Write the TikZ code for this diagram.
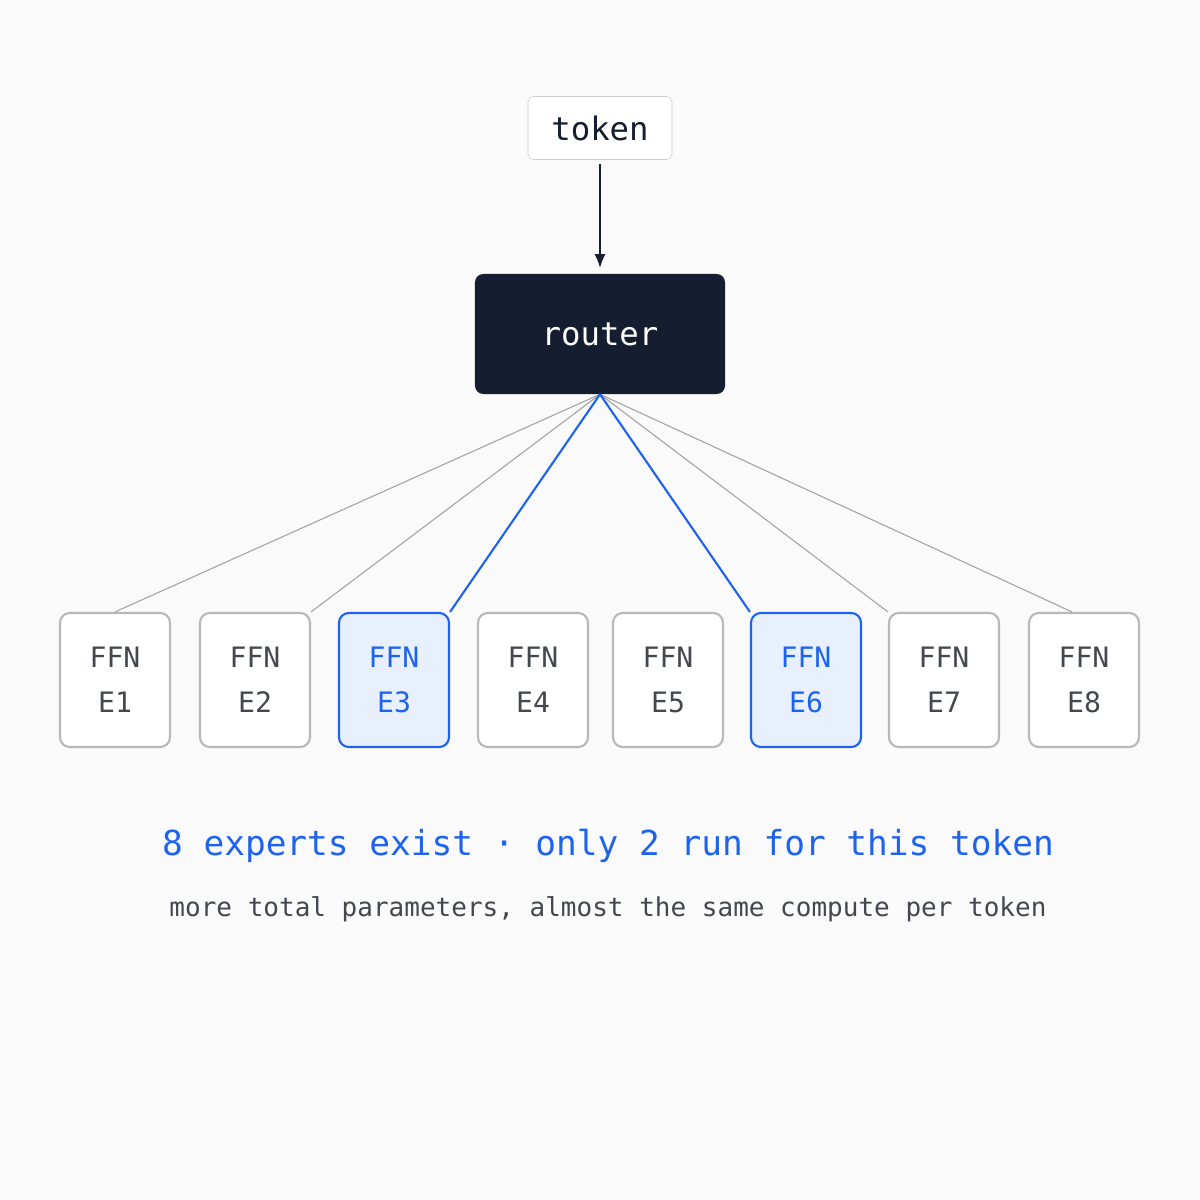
\documentclass[tikz,border=0pt]{standalone}
\usepackage{fontspec}
\setmonofont{DejaVu Sans Mono}
\usetikzlibrary{positioning,arrows.meta}
\definecolor{navy}{HTML}{141E30}
\definecolor{hiblue}{HTML}{1E63F0}
\definecolor{hifill}{HTML}{E8F0FD}
\definecolor{boxgray}{HTML}{B8B8BC}
\definecolor{txtgray}{HTML}{45474F}
\definecolor{bggray}{HTML}{FAFAFA}

\begin{document}
\begin{tikzpicture}[
            x=0.025cm, y=-0.025cm,
            tokenbox/.style={rectangle, draw=boxgray!70, rounded corners=4pt, fill=white, minimum width=3.6cm, minimum height=1.575cm, font=\ttfamily\fontsize{23}{26}\selectfont, text=navy},
            routerbox/.style={rectangle, fill=navy, rounded corners=6pt, minimum width=6.25cm, minimum height=3cm, font=\ttfamily\fontsize{23}{26}\selectfont, text=white},
            expert/.style={rectangle, draw=boxgray, line width=1.5pt, rounded corners=7pt, fill=white, minimum width=2.75cm, minimum height=3.35cm, align=center, font=\ttfamily\fontsize{20}{32}\selectfont, text=txtgray},
            active/.style={expert, draw=hiblue, fill=hifill, text=hiblue},
            link/.style={draw=gray!70, line width=0.8pt},
            hilink/.style={draw=hiblue, line width=1.5pt}
            ]
            \fill[bggray] (0,0) rectangle (1200,1200);
            \useasboundingbox (0,0) rectangle (1200,1200);

            % Input and router
            \node[tokenbox] (token) at (600,128) {token};
            \node[routerbox] (router) at (600,334) {router};
            \draw[-{Latex[length=10pt,width=8pt]}, line width=1.5pt, navy, shorten <=3pt, shorten >=4pt] (token) -- (router);

            % Experts
            \foreach \i/\x in {1/115, 2/255, 4/533, 5/668, 7/944, 8/1084}
                \node[expert] (e\i) at (\x,680) {FFN\\E\i};
            \node[active] (e3) at (394,680) {FFN\\E3};
            \node[active] (e6) at (806,680) {FFN\\E6};

            % Routes
            \draw[link] (router.south) -- (e1.north);
            \draw[link] (router.south) -- (e2.north east);
            \draw[link] (router.south) -- (e7.north west);
            \draw[link] (router.south) -- ([xshift=-0.3cm]e8.north);
            \draw[hilink] (router.south) -- (e3.north east);
            \draw[hilink] (router.south) -- (e6.north west);

            % Captions
            \node[font=\ttfamily\fontsize{24.5}{28}\selectfont, text=hiblue] (caption) at (608,846) {8 experts exist · only 2 run for this token};
            \node[font=\ttfamily\fontsize{18.5}{22}\selectfont, text=txtgray, below=0.6cm of caption] (subcaption) {more total parameters, almost the same compute per token};
\end{tikzpicture}
\end{document}
